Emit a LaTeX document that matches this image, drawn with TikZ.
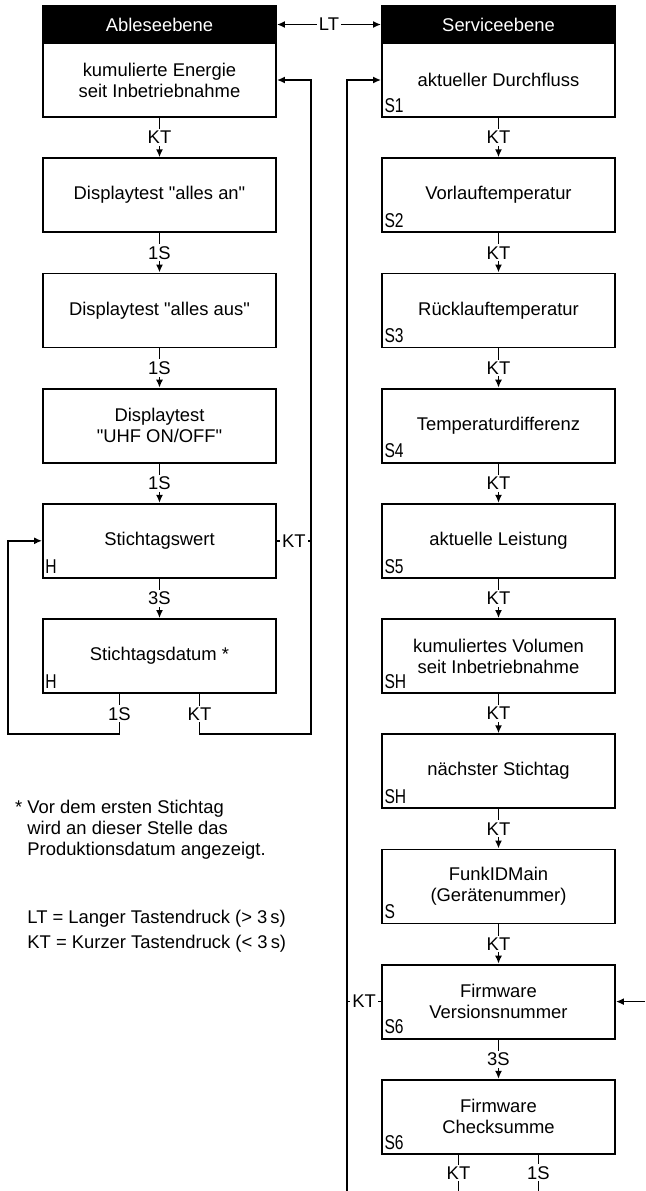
\documentclass[tikz,border=0pt]{standalone}
\usepackage{fontspec}
\setmainfont{Liberation Sans}[Ligatures=TeXOff]
\usetikzlibrary{arrows.meta}
\newcommand{\segtxt}[1]{\scalebox{0.78}[1]{#1}}

\begin{document}
\begin{tikzpicture}[x=0.5pt,y=-0.5pt,
		box/.style={draw,line width=0.9pt,minimum width=116.5pt,minimum height=37pt,
			align=center,inner sep=0pt,font=\fontsize{9.2}{10.5}\selectfont},
		head/.style={box,fill=black,text=white,minimum height=18.5pt},
		seg/.style={anchor=south west,inner sep=0pt,font=\fontsize{10}{10}\selectfont},
		lab/.style={fill=white,inner sep=1pt,font=\fontsize{9.2}{10}\selectfont},
		note/.style={anchor=base west,inner sep=0pt,font=\fontsize{9.2}{10.5}\selectfont},
		conn/.style={line width=0.85pt},
		arr/.style={conn,-{Latex[length=4pt,width=3.5pt]}}]
			\useasboundingbox (0,0) rectangle (645,1191);
			% Ableseebene
			\node[head] (lhead) at (159.5,24.5) {Ableseebene};
			\node[box] (a1) at (159.5,80) {kumulierte Energie\\seit Inbetriebnahme};
			\node[box] (a2) at (159.5,195.2) {Displaytest "alles an"};
			\node[box] (a3) at (159.5,310.4) {Displaytest "alles aus"};
			\node[box] (a4) at (159.5,425.6) {Displaytest\\"UHF ON/OFF"};
			\node[box] (a5) at (159.5,540.8) {Stichtagswert};
			\node[box] (a6) at (159.5,656) {Stichtagsdatum *};
			\node[seg] (a5s) at ([shift={(3,-5)}]a5.south west) {\segtxt{H}};
			\node[seg] (a6s) at ([shift={(3,-5)}]a6.south west) {\segtxt{H}};
			% Serviceebene
			\node[head] (rhead) at (498.5,24.5) {Serviceebene};
			\node[box] (s1) at (498.5,80) {aktueller Durchfluss};
			\node[box] (s2) at (498.5,195.2) {Vorlauftemperatur};
			\node[box] (s3) at (498.5,310.4) {Rücklauftemperatur};
			\node[box] (s4) at (498.5,425.6) {Temperaturdifferenz};
			\node[box] (s5) at (498.5,540.8) {aktuelle Leistung};
			\node[box] (s6) at (498.5,656) {kumuliertes Volumen\\seit Inbetriebnahme};
			\node[box] (s7) at (498.5,771.2) {nächster Stichtag};
			\node[box] (s8) at (498.5,886.4) {FunkIDMain\\(Gerätenummer)};
			\node[box] (s9) at (498.5,1001.6) {Firmware\\Versionsnummer};
			\node[box] (s10) at (498.5,1116.8) {Firmware\\Checksumme};
			\node[seg] (s1s) at ([shift={(3,-5)}]s1.south west) {\segtxt{S1}};
			\node[seg] (s2s) at ([shift={(3,-5)}]s2.south west) {\segtxt{S2}};
			\node[seg] (s3s) at ([shift={(3,-5)}]s3.south west) {\segtxt{S3}};
			\node[seg] (s4s) at ([shift={(3,-5)}]s4.south west) {\segtxt{S4}};
			\node[seg] (s5s) at ([shift={(3,-5)}]s5.south west) {\segtxt{S5}};
			\node[seg] (s6s) at ([shift={(3,-5)}]s6.south west) {\segtxt{SH}};
			\node[seg] (s7s) at ([shift={(3,-5)}]s7.south west) {\segtxt{SH}};
			\node[seg] (s8s) at ([shift={(3,-5)}]s8.south west) {\segtxt{S}};
			\node[seg] (s9s) at ([shift={(3,-5)}]s9.south west) {\segtxt{S6}};
			\node[seg] (s10s) at ([shift={(3,-5)}]s10.south west) {\segtxt{S6}};
			% Tasten
			\draw[conn,{Latex[length=4pt,width=3.5pt]}-{Latex[length=4pt,width=3.5pt]}] (lhead) -- node[lab] (lt) {LT} (rhead);
			\draw[arr] (a1) -- node[lab] (k1) {KT} (a2);
			\draw[arr] (a2) -- node[lab] (k2) {1S} (a3);
			\draw[arr] (a3) -- node[lab] (k3) {1S} (a4);
			\draw[arr] (a4) -- node[lab] (k4) {1S} (a5);
			\draw[arr] (a5) -- node[lab] (k5) {3S} (a6);
			\draw[arr] (s1) -- node[lab] (t1) {KT} (s2);
			\draw[arr] (s2) -- node[lab] (t2) {KT} (s3);
			\draw[arr] (s3) -- node[lab] (t3) {KT} (s4);
			\draw[arr] (s4) -- node[lab] (t4) {KT} (s5);
			\draw[arr] (s5) -- node[lab] (t5) {KT} (s6);
			\draw[arr] (s6) -- node[lab] (t6) {KT} (s7);
			\draw[arr] (s7) -- node[lab] (t7) {KT} (s8);
			\draw[arr] (s8) -- node[lab] (t8) {KT} (s9);
			\draw[arr] (s9) -- node[lab] (t9) {3S} (s10);
			% Ruecksprung links
			\coordinate (lpl) at (8,734);
			\coordinate (lpr) at (311,734);
			\coordinate (a6l) at ([xshift=-20pt]a6.south);
			\coordinate (a6r) at ([xshift=20pt]a6.south);
			\draw[arr] (a6l) -- node[lab] (k6) {1S} (a6l |- lpl) -- (lpl) |- (a5.west);
			\draw[arr] (a6r) -- node[lab] (k7) {KT} (a6r |- lpr) -- (lpr) |- (a1.east);
			\draw[conn] (a5.east) -- node[lab] (k8) {KT} (a5.east -| lpr);
			% Ruecksprung rechts
			\coordinate (rbot) at (347,1191);
			\coordinate (redge) at (645,1001.6);
			\coordinate (s10l) at ([xshift=-20pt]s10.south);
			\coordinate (s10r) at ([xshift=20pt]s10.south);
			\draw[arr] (rbot) |- (s1.west);
			\draw[conn] (s9.west) -- node[lab] (t10) {KT} (s9.west -| rbot);
			\draw[arr] (redge) -- (s9.east);
			\draw[conn] (s10l) -- node[lab] (t11) {KT} (s10l |- rbot);
			\draw[conn] (s10r) -- node[lab] (t12) {1S} (s10r |- rbot);
			% Fussnote
			\node[note] (fn1) at (27,813) {\llap{*\ }Vor dem ersten Stichtag};
			\node[note] (fn2) at (27,834) {wird an dieser Stelle das};
			\node[note] (fn3) at (27,855) {Produktionsdatum angezeigt.};
			\node[note] (lgd1) at (27,923) {LT = Langer Tastendruck (> 3\,s)};
			\node[note] (lgd2) at (27,948) {KT = Kurzer Tastendruck (< 3\,s)};
		\end{tikzpicture}
\end{document}
